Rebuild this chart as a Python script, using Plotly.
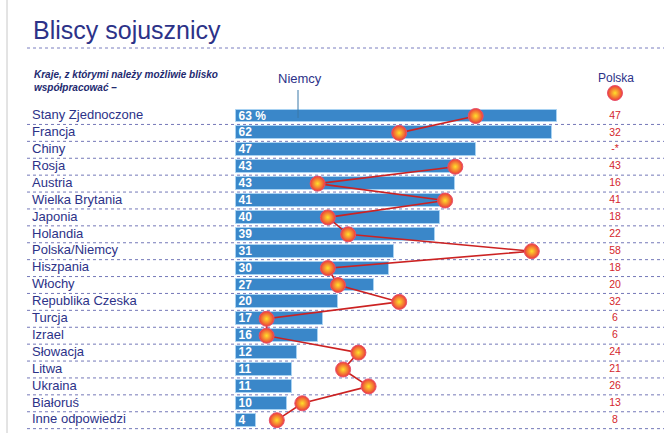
import plotly.graph_objects as go

countries = ["Stany Zjednoczone", "Francja", "Chiny", "Rosja", "Austria",
             "Wielka Brytania", "Japonia", "Holandia", "Polska/Niemcy", "Hiszpania",
             "Włochy", "Republika Czeska", "Turcja", "Izrael", "Słowacja",
             "Litwa", "Ukraina", "Białoruś", "Inne odpowiedzi"]
niemcy = [63, 62, 47, 43, 43, 41, 40, 39, 31, 30, 27, 20, 17, 16, 12, 11, 11, 10, 4]
polska = [47, 32, None, 43, 16, 41, 18, 22, 58, 18, 20, 32, 6, 6, 24, 21, 26, 13, 8]
niemcy_labels = ["63 %"] + [str(v) for v in niemcy[1:]]
polska_labels = [str(v) if v is not None else "-*" for v in polska]

W, H = 664, 433
X0, XS = 236.0, 5.1        # pixel of value 0, pixels per unit
Y0, YS = 116.0, 16.9       # pixel of first row center, pixels per row

def px_x(p):
    return (p - X0) / XS

def px_y(p):
    return (p - Y0) / YS

NAVY = "#2c3288"
RED_TXT = "#d4262c"
ys = list(range(len(countries)))

fig = go.Figure()

# bars (Niemcy)
fig.add_trace(go.Bar(
    x=niemcy, y=ys, orientation="h", width=0.76,
    marker=dict(color="#3a87c9", line=dict(color="#a8d2f2", width=1)),
    text=niemcy_labels, textposition="inside", insidetextanchor="start", textangle=0,
    textfont=dict(family="Liberation Sans", size=12, color="white", weight="bold"),
    cliponaxis=False, showlegend=False, hoverinfo="skip",
))

# Polska line + dots
fig.add_trace(go.Scatter(
    x=polska, y=ys, mode="lines+markers", connectgaps=False,
    line=dict(color="#cc2222", width=1.6),
    marker=dict(size=15, color="#ec3a3a",
                gradient=dict(type="radial", color="#ffe02a"),
                line=dict(color="#e8506a", width=1)),
    showlegend=False, hoverinfo="skip", cliponaxis=False,
))

# country labels
fig.add_trace(go.Scatter(
    x=[px_x(32)] * len(countries), y=ys, mode="text", text=countries,
    textposition="middle right",
    textfont=dict(family="Liberation Sans", size=13, color=NAVY),
    showlegend=False, hoverinfo="skip", cliponaxis=False,
))

# Polska values column
fig.add_trace(go.Scatter(
    x=[px_x(615)] * len(countries), y=ys, mode="text", text=polska_labels,
    textposition="middle center",
    textfont=dict(family="Liberation Sans", size=10.5, color=RED_TXT),
    showlegend=False, hoverinfo="skip", cliponaxis=False,
))

# Polska legend dot
fig.add_trace(go.Scatter(
    x=[px_x(615)], y=[px_y(93)], mode="markers",
    marker=dict(size=15, color="#ec3a3a",
                gradient=dict(type="radial", color="#ffe02a"),
                line=dict(color="#e8506a", width=1)),
    showlegend=False, hoverinfo="skip", cliponaxis=False,
))

shapes = []
# row separators
for i in range(len(countries)):
    yy = i + 0.5
    shapes.append(dict(type="line", xref="paper", yref="y",
                       x0=27 / W, x1=1, y0=yy, y1=yy,
                       line=dict(color="#7478b8", width=1, dash="dot"), layer="below"))
# title underline
shapes.append(dict(type="line", xref="paper", yref="paper",
                   x0=27 / W, x1=1, y0=1 - 48 / H, y1=1 - 48 / H,
                   line=dict(color="#7a7fc0", width=1, dash="dot")))
# left gray border
shapes.append(dict(type="line", xref="paper", yref="paper",
                   x0=7 / W, x1=7 / W, y0=0, y1=1,
                   line=dict(color="#c8c8c8", width=1)))
# Niemcy pointer line
shapes.append(dict(type="line", xref="paper", yref="paper",
                   x0=298 / W, x1=298 / W, y0=1 - 90 / H, y1=1 - 118 / H,
                   line=dict(color="#3a78a8", width=1), layer="above"))

annotations = [
    dict(text="Bliscy sojusznicy", xref="paper", yref="paper",
         x=31 / W, y=1 - 30 / H, xanchor="left", yanchor="middle", showarrow=False,
         font=dict(family="Liberation Sans", size=25, color=NAVY)),
    dict(text="<b><i>Kraje, z którymi należy możliwie blisko<br>współpracować –</i></b>",
         xref="paper", yref="paper", x=32 / W, y=1 - 81 / H, xanchor="left", yanchor="middle",
         align="left", showarrow=False,
         font=dict(family="Liberation Sans", size=10, color="#232a70")),
    dict(text="Niemcy", xref="paper", yref="paper", x=300 / W, y=1 - 79 / H,
         xanchor="center", yanchor="middle", showarrow=False,
         font=dict(family="Liberation Sans", size=13, color=NAVY)),
    dict(text="Polska", xref="paper", yref="paper", x=616 / W, y=1 - 78 / H,
         xanchor="center", yanchor="middle", showarrow=False,
         font=dict(family="Liberation Sans", size=12, color=NAVY)),
]

fig.update_layout(
    width=W, height=H, autosize=False,
    margin=dict(l=0, r=0, t=0, b=0),
    paper_bgcolor="white", plot_bgcolor="white",
    xaxis=dict(range=[px_x(0), px_x(W)], visible=False, fixedrange=True),
    yaxis=dict(range=[px_y(H), px_y(0)], visible=False, fixedrange=True),
    shapes=shapes, annotations=annotations,
    uniformtext=dict(mode="show", minsize=12),
    bargap=0,
)

fig.write_html("out.html", config={"displayModeBar": False},
               post_script="document.body.style.margin='0px';document.body.style.overflow='hidden';")
